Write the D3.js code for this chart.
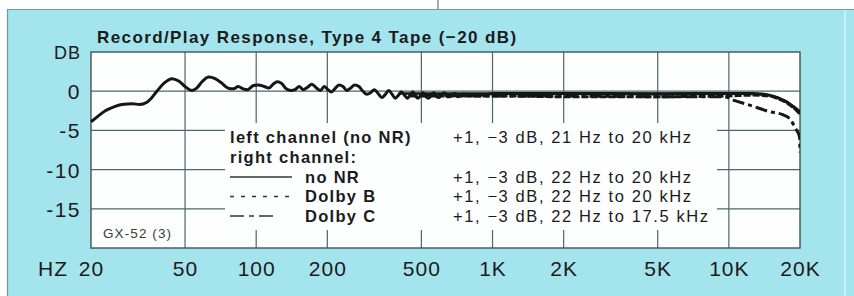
<!DOCTYPE html>
<html>
<head>
<meta charset="utf-8">
<script src="https://cdn.jsdelivr.net/npm/d3@7"></script>
<style>
  body { margin: 0; background: #fff; }
  svg { display: block; }
  text { font-family: "Liberation Sans", Arial, sans-serif; fill: #1b1b1b; }
</style>
</head>
<body>
<svg width="854" height="296"></svg>
<script>
// axis ticks
var freqTicks = [20, 50, 100, 200, 500, 1000, 2000, 5000, 10000, 20000];
var freqLabels = ['20', '50', '100', '200', '500', '1K', '2K', '5K', '10K', '20K'];
var dbTicks = [0, -5, -10, -15];
var dbLabels = ['0', '-5', '-10', '-15'];

// left channel, no NR
var leftFreq = [20, 21, 23, 25, 27, 30, 32, 34.5, 36, 38, 41, 44, 47, 50, 53.5, 56, 59, 63, 67, 71,
  76, 80, 84, 88, 92, 97, 102, 108, 113, 118, 123, 128, 134, 140, 146, 152, 158, 165, 172, 180,
  187, 194, 201, 208, 215, 224, 233, 242, 251, 261, 272, 283, 294, 305, 316, 328, 340, 352, 364, 376,
  388, 400, 412, 424, 436, 448, 460, 472, 484, 497, 510, 523, 537, 551, 565, 580, 595, 610, 626, 642,
  659, 676, 694, 712, 730, 750, 770, 790, 810, 840, 880, 950, 1000, 1500, 2000, 3000, 5000, 7000, 10000, 12600,
  14800, 16300, 17400, 18200, 19100, 20000];
var leftDb = [-3.9, -3.4, -2.5, -2.0, -1.7, -1.6, -1.7, -1.4, -0.9, 0.0, 1.1, 1.6, 1.3, 0.6, 0.1, 0.4, 1.2, 1.8, 1.6, 1.1,
  0.4, 0.3, 0.6, 0.3, 0.2, 0.7, 0.8, 0.6, 0.4, 0.9, 1.2, 1.0, 0.3, 0.1, 0.2, 0.6, 0.2, 0.5, 0.9, 0.4,
  0.1, 0.6, 0.2, -0.1, 0.3, 0.8, 0.6, 0.1, 0.4, 0.8, 0.6, 0.0, -0.4, -0.2, 0.2, -0.3, -0.8, -0.4, 0.1, -0.4,
  -0.9, -0.5, -0.1, -0.5, -0.9, -0.5, -0.1, -0.6, -0.9, -0.5, -0.2, -0.7, -0.9, -0.5, -0.2, -0.7, -0.8, -0.4, -0.2, -0.7,
  -0.7, -0.4, -0.3, -0.7, -0.6, -0.4, -0.4, -0.6, -0.5, -0.4, -0.5, -0.4, -0.3, -0.3, -0.3, -0.3, -0.35, -0.3, -0.3, -0.3,
  -0.5, -0.9, -1.3, -1.7, -2.2, -2.9];

// right channel
var noNrFreq = [400, 500, 800, 1000, 2000, 5000, 10000, 12600, 14800, 16300, 17400, 18200, 19100, 20000];
var noNrDb = [-0.3, -0.3, -0.3, -0.3, -0.3, -0.3, -0.3, -0.35, -0.5, -0.9, -1.3, -1.7, -2.1, -2.6];

var dolbyBFreq = [450, 500, 1000, 2000, 5000, 10000, 12600, 14800, 16300, 17400, 18200, 19100, 20000];
var dolbyBDb = [-0.6, -0.6, -0.6, -0.7, -0.7, -0.6, -0.5, -0.6, -1.0, -1.4, -1.8, -2.3, -2.9];

var dolbyCFreq = [500, 1000, 2000, 5000, 9500, 10600, 12600, 14800, 16900, 18200, 19100, 19900, 20000];
var dolbyCDb = [-0.5, -0.6, -0.6, -0.7, -0.7, -1.2, -1.9, -2.6, -3.0, -3.6, -4.7, -5.8, -7.8];

// legend
var legendLabels = ['left channel (no NR)', 'right channel:', 'no NR', 'Dolby B', 'Dolby C'];
var legendSpecs = ['+1, \u22123 dB, 21 Hz to 20 kHz', '', '+1, \u22123 dB, 22 Hz to 20 kHz',
  '+1, \u22123 dB, 22 Hz to 20 kHz', '+1, \u22123 dB, 22 Hz to 17.5 kHz'];
var legendDash = [null, null, 'none', '4,7', '14,5,5,5'];

var svg = d3.select('svg');
var ink = '#161616', gridCol = '#4a6a66';

// panel
svg.append('rect').attr('x', 7).attr('y', 9).attr('width', 847).attr('height', 287).attr('fill', '#a4e4ed');
svg.append('path').attr('d', 'M7.5,296V9.5H854').attr('fill', 'none').attr('stroke', '#6f9aa0').attr('stroke-width', 1.2);
svg.append('line').attr('x1', 438).attr('x2', 438).attr('y1', 0).attr('y2', 9).attr('stroke', '#555').attr('stroke-width', 1);
svg.append('line').attr('x1', 845).attr('x2', 845).attr('y1', 10).attr('y2', 296).attr('stroke', '#d6f4f8').attr('stroke-width', 1.5);

var x = d3.scaleLog().domain([20, 20000]).range([91, 800]);
var y = d3.scaleLinear().domain([-20, 5]).range([248, 52]);

var g = svg.append('g');
g.append('rect').attr('x', x(20)).attr('y', y(5)).attr('width', x(20000) - x(20)).attr('height', y(-20) - y(5))
  .attr('fill', '#fdfefe');

// grid
g.selectAll('.vgrid').data(freqTicks.slice(1, -1)).enter().append('line')
  .attr('x1', function (d) { return x(d); }).attr('x2', function (d) { return x(d); })
  .attr('y1', y(5)).attr('y2', y(-20)).attr('stroke', gridCol).attr('stroke-width', 1.2);
g.selectAll('.hgrid').data(dbTicks).enter().append('line')
  .attr('x1', x(20)).attr('x2', x(20000))
  .attr('y1', function (d) { return y(d); }).attr('y2', function (d) { return y(d); })
  .attr('stroke', gridCol).attr('stroke-width', 1.2);

// legend box knocks out the grid
g.append('rect').attr('x', 225).attr('y', 123).attr('width', 492).attr('height', 107).attr('fill', '#fdfefe');

g.append('rect').attr('x', x(20)).attr('y', y(5)).attr('width', x(20000) - x(20)).attr('height', y(-20) - y(5))
  .attr('fill', 'none').attr('stroke', '#3c5552').attr('stroke-width', 1.4);

svg.append('clipPath').attr('id', 'plotclip').append('rect')
  .attr('x', x(20) - 2).attr('y', y(5)).attr('width', x(20000) - x(20) + 2).attr('height', y(-20) - y(5));

var line = d3.line().curve(d3.curveMonotoneX)
  .x(function (d) { return x(d[0]); }).y(function (d) { return y(d[1]); });
function pairs(f, v) { return f.map(function (d, i) { return [d, v[i]]; }); }

var curves = g.append('g').attr('clip-path', 'url(#plotclip)');
curves.append('path').attr('d', line(pairs(leftFreq, leftDb)))
  .attr('fill', 'none').attr('stroke', ink).attr('stroke-width', 3).attr('stroke-linejoin', 'round');
curves.append('path').attr('d', line(pairs(noNrFreq, noNrDb)))
  .attr('fill', 'none').attr('stroke', ink).attr('stroke-width', 2.4);
curves.append('path').attr('d', line(pairs(dolbyBFreq, dolbyBDb)))
  .attr('fill', 'none').attr('stroke', ink).attr('stroke-width', 3).attr('stroke-dasharray', '7,2');
curves.append('path').attr('d', line(pairs(dolbyCFreq, dolbyCDb)))
  .attr('fill', 'none').attr('stroke', ink).attr('stroke-width', 3).attr('stroke-dasharray', '12,4,4,4');

// axes
var xAxis = svg.append('g').attr('transform', 'translate(0,276)')
  .call(d3.axisBottom(x).tickValues(freqTicks).tickFormat(function (d, i) { return freqLabels[i]; }).tickSize(0));
xAxis.select('.domain').remove();
xAxis.attr('font-family', null).attr('font-size', null);
xAxis.selectAll('text').attr('y', 0).attr('dy', 0).attr('fill', ink)
  .style('font-size', '21px').style('letter-spacing', '1px');

var yAxis = svg.append('g').attr('transform', 'translate(81,0)')
  .call(d3.axisLeft(y).tickValues(dbTicks).tickFormat(function (d, i) { return dbLabels[i]; }).tickSize(0).tickPadding(0));
yAxis.select('.domain').remove();
yAxis.attr('font-family', null).attr('font-size', null);
yAxis.selectAll('text').attr('dy', '0.36em').attr('fill', ink)
  .style('font-size', '21px').style('letter-spacing', '1.5px');

svg.append('text').attr('x', 38).attr('y', 276).style('font-size', '21px').style('letter-spacing', '1px').text('HZ');
svg.append('text').attr('x', 81).attr('y', 59).attr('text-anchor', 'end').style('font-size', '18px').style('letter-spacing', '1px').text('DB');

svg.append('text').attr('x', 97).attr('y', 43).style('font-size', '17px').style('font-weight', 'bold')
  .style('letter-spacing', '1.4px').text('Record/Play Response, Type 4 Tape (\u221220 dB)');

svg.append('text').attr('x', 103).attr('y', 238).style('font-size', '13.5px').style('letter-spacing', '1.1px')
  .style('fill', '#3a3a3a').text('GX-52 (3)');

// legend
var rowY = [142.5, 162.5, 182.5, 202, 221.5];
var leg = svg.append('g');
legendLabels.forEach(function (lab, i) {
  leg.append('text').attr('x', i < 2 ? 230 : 305).attr('y', rowY[i])
    .style('font-size', '16.5px').style('font-weight', 'bold').style('letter-spacing', '1.3px').text(lab);
  if (legendSpecs[i]) {
    leg.append('text').attr('x', 453).attr('y', rowY[i])
      .style('font-size', '16.5px').style('letter-spacing', '1.6px').text(legendSpecs[i]);
  }
  if (legendDash[i]) {
    leg.append('line').attr('x1', 230).attr('x2', i === 4 ? 278 : 292)
      .attr('y1', rowY[i] - 5.5).attr('y2', rowY[i] - 5.5)
      .attr('stroke', '#333').attr('stroke-width', 1.4)
      .attr('stroke-dasharray', legendDash[i] === 'none' ? null : legendDash[i]);
  }
});
</script>
</body>
</html>
